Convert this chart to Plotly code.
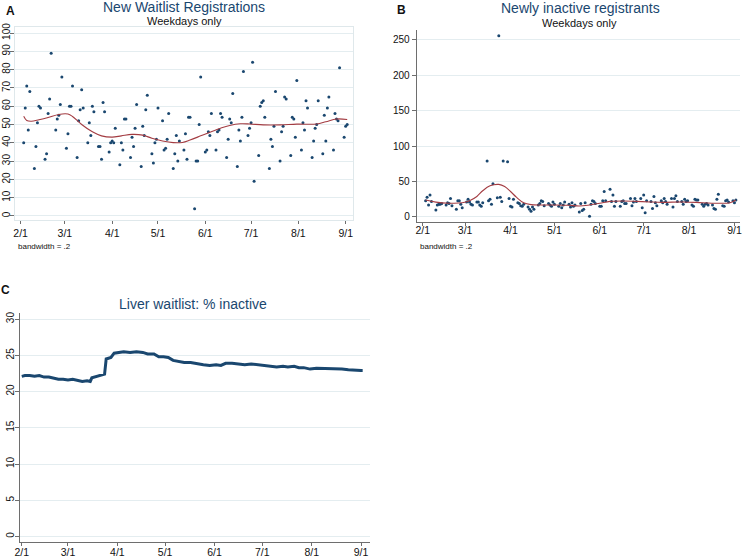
import pandas as pd
import plotly.graph_objects as go

# ---------------- data ----------------
weekday_start = "2020-02-03"
weekday_end = "2020-09-02"

registrations = [
    40, 59, 71, 47, 68,
    26, 38, 51, 60, 59,
    31, 34, 56, 64, 89,
    47, 53, 55, 61, 76,
    37, 45, 60, 60, 71,
    32, 52, 58, 69, 59,
    40, 51, 44, 60, 57,
    38, 38, 31, 62, 57,
    35, 40, 41, 40, 48,
    28, 40, 36, 53, 53,
    32, 43, 38, 48, 61,
    27, 49, 44, 58, 66,
    34, 29, 40, 42, 59,
    52, 36, 37, 42, 56,
    26, 34, 44, 30, 41,
    36, 45, 31, 54, 54,
    4, 30, 30, 50, 76,
    35, 36, 46, 44, 56,
    36, 46, 47, 56, 54,
    32, 42, 53, 51, 67,
    27, 47, 41, 54, 79,
    44, 48, 51, 84, 19,
    33, 60, 62, 63, 54,
    26, 42, 38, 49, 68,
    30, 46, 49, 65, 64,
    33, 54, 53, 43, 74,
    36, 51, 47, 63, 59,
    32, 41, 48, 50, 63,
    34, 55, 41, 59, 65,
    36, 56, 53, 52, 81,
    43, 49, 50,
]

inactive_new = [
    23, 28, 17, 31, 22,
    10, 17, 18, 18, 19,
    17, 20, 19, 26, 16,
    11, 23, 23, 18, 13,
    21, 25, 21, 18, 17,
    21, 21, 17, 15, 20,
    79, 23, 25, 18, 47,
    27, 256, 28, 22, 79,
    78, 26, 15, 14, 25,
    20, 19, 16, 15, 18,
    14, 11, 8, 14, 11,
    17, 19, 23, 22, 16,
    19, 17, 15, 21, 18,
    15, 19, 13, 17, 21,
    18, 14, 20, 15, 17,
    7, 19, 9, 11, 20,
    1, 18, 23, 22, 19,
    15, 15, 23, 36, 23,
    39, 22, 31, 15, 22,
    15, 22, 23, 19, 19,
    26, 16, 21, 26, 22,
    26, 13, 31, 6, 23,
    22, 12, 29, 20, 16,
    23, 20, 26, 22, 18,
    26, 14, 26, 30, 22,
    22, 18, 25, 22, 23,
    17, 15, 25, 24, 24,
    18, 15, 18, 19, 17,
    17, 12, 11, 25, 32,
    16, 15, 23, 24, 21,
    23, 20, 24,
]

smooth_a_dates = ["2020-02-03", "2020-02-05", "2020-02-08", "2020-02-13", "2020-02-19",
                  "2020-02-26", "2020-03-03", "2020-03-06", "2020-03-12", "2020-03-19",
                  "2020-03-25", "2020-04-01", "2020-04-07", "2020-04-14", "2020-04-21",
                  "2020-04-27", "2020-05-04", "2020-05-11", "2020-05-17", "2020-05-22",
                  "2020-05-29", "2020-06-04", "2020-06-11", "2020-06-17", "2020-06-24",
                  "2020-06-30", "2020-07-09", "2020-07-20", "2020-07-31", "2020-08-13",
                  "2020-08-19", "2020-08-26", "2020-09-02"]
smooth_a_values = [54.5, 52.2, 51.8, 52.6, 53.8, 55.5, 55.7, 54.4, 50.0, 46.0,
                   43.8, 43.1, 43.8, 44.6, 44.2, 42.5, 41.0, 40.1, 40.2, 41.5,
                   43.8, 45.8, 48.0, 49.5, 50.4, 50.3, 49.8, 49.8, 50.2, 50.3,
                   51.5, 53.0, 52.7]

smooth_b_dates = ["2020-02-03", "2020-02-10", "2020-02-19", "2020-02-28", "2020-03-04",
                  "2020-03-09", "2020-03-13", "2020-03-18", "2020-03-24", "2020-03-28",
                  "2020-04-01", "2020-04-05", "2020-04-10", "2020-04-15", "2020-04-23",
                  "2020-05-02", "2020-05-11", "2020-05-18", "2020-05-25", "2020-06-01",
                  "2020-06-08", "2020-06-17", "2020-06-26", "2020-07-05", "2020-07-14",
                  "2020-07-28", "2020-08-10", "2020-08-22", "2020-08-29", "2020-09-02"]
smooth_b_values = [24.0, 21.0, 19.5, 20.0, 23.0, 29.0, 37.0, 44.0, 46.0, 43.0,
                   36.0, 28.0, 20.0, 17.4, 17.0, 17.0, 16.5, 15.5, 17.0, 19.3,
                   22.0, 22.6, 22.0, 21.2, 20.7, 21.2, 20.2, 19.3, 20.2, 24.0]

pct_dates = ["2020-02-01", "2020-02-03", "2020-02-06", "2020-02-09", "2020-02-12",
             "2020-02-15", "2020-02-18", "2020-02-21", "2020-02-24", "2020-02-27",
             "2020-03-01", "2020-03-04", "2020-03-07", "2020-03-10", "2020-03-13",
             "2020-03-15", "2020-03-16", "2020-03-20", "2020-03-24", "2020-03-25",
             "2020-03-28", "2020-03-30", "2020-04-01", "2020-04-05", "2020-04-09",
             "2020-04-13", "2020-04-17", "2020-04-20", "2020-04-24", "2020-04-27",
             "2020-04-30", "2020-05-03", "2020-05-06", "2020-05-09", "2020-05-13",
             "2020-05-17", "2020-05-21", "2020-05-25", "2020-05-29", "2020-06-02",
             "2020-06-05", "2020-06-08", "2020-06-12", "2020-06-16", "2020-06-20",
             "2020-06-24", "2020-06-28", "2020-07-02", "2020-07-06", "2020-07-10",
             "2020-07-14", "2020-07-17", "2020-07-21", "2020-07-24", "2020-07-27",
             "2020-07-31", "2020-08-04", "2020-08-08", "2020-08-12", "2020-08-16",
             "2020-08-20", "2020-08-24", "2020-08-28", "2020-09-01", "2020-09-02"]
pct_values = [22.1, 22.2, 22.2, 22.1, 22.2, 22.0, 22.0, 21.8, 21.7, 21.7,
              21.6, 21.7, 21.6, 21.4, 21.5, 21.4, 21.9, 22.1, 22.4, 24.5,
              24.7, 25.3, 25.4, 25.5, 25.4, 25.5, 25.4, 25.2, 25.2, 24.8,
              24.8, 24.7, 24.3, 24.2, 24.0, 24.0, 23.8, 23.7, 23.6, 23.7,
              23.6, 23.9, 23.9, 23.8, 23.7, 23.8, 23.7, 23.7, 23.5, 23.4,
              23.5, 23.4, 23.5, 23.3, 23.3, 23.1, 23.2, 23.2, 23.1, 23.1,
              23.1, 23.0, 22.9, 22.9, 22.9]

month_ticks = ["2020-02-01", "2020-03-01", "2020-04-01", "2020-05-01",
               "2020-06-01", "2020-07-01", "2020-08-01", "2020-09-01"]
month_labels = ["2/1", "3/1", "4/1", "5/1", "6/1", "7/1", "8/1", "9/1"]

# ---------------- figure ----------------
W, H = 743, 558
NAVY = "#1a476f"
MAROON = "#a33c42"
GRID = "#e4edf0"
AXIS = "#6e6e6e"
FONT = "Liberation Sans, Arial, sans-serif"

weekdays = pd.bdate_range(weekday_start, weekday_end)
base = pd.Timestamp("2020-02-01")


def xd(a, b):
    return [a / W, b / W]


def yd(top, bottom):
    return [1 - bottom / H, 1 - top / H]


def drange(d0, d1):
    return [base + pd.Timedelta(days=d0), base + pd.Timedelta(days=d1)]


fig = go.Figure()
fig.add_trace(go.Scatter(x=weekdays, y=registrations, mode="markers",
                         marker=dict(color=NAVY, size=3), xaxis="x", yaxis="y"))
fig.add_trace(go.Scatter(x=smooth_a_dates, y=smooth_a_values, mode="lines",
                         line=dict(color=MAROON, width=1.1, shape="spline"),
                         xaxis="x", yaxis="y"))
fig.add_trace(go.Scatter(x=weekdays, y=inactive_new, mode="markers",
                         marker=dict(color=NAVY, size=3), xaxis="x2", yaxis="y2"))
fig.add_trace(go.Scatter(x=smooth_b_dates, y=smooth_b_values, mode="lines",
                         line=dict(color=MAROON, width=1.1, shape="spline"),
                         xaxis="x2", yaxis="y2"))
fig.add_trace(go.Scatter(x=pct_dates, y=pct_values, mode="lines",
                         line=dict(color=NAVY, width=3), xaxis="x3", yaxis="y3"))

xcommon = dict(tickvals=month_ticks, ticktext=month_labels, ticks="outside",
               ticklen=3, tickcolor=AXIS, showgrid=False, zeroline=False,
               automargin=False, tickfont=dict(size=10.5, color="#111"))
ycommon = dict(ticks="outside", ticklen=4, tickcolor=AXIS, showgrid=True,
               gridcolor=GRID, gridwidth=1, zeroline=False, automargin=False,
               tickfont=dict(size=10, color="#111"))

fig.update_layout(
    width=W, height=H, margin=dict(l=0, r=0, t=0, b=0, autoexpand=False),
    paper_bgcolor="white", plot_bgcolor="white", showlegend=False,
    font=dict(family=FONT, color="#111"),
    xaxis=dict(domain=xd(15, 353), range=drange(-3.7, 217.8), anchor="y",
               showline=True, mirror=True, linecolor="#dfe8eb", **xcommon),
    yaxis=dict(domain=yd(27, 220), range=[-2.2, 103.3], anchor="x",
               tickvals=list(range(0, 101, 10)), tickangle=-90,
               showline=True, mirror=True, linecolor="#dfe8eb",
               ticklabelstandoff=-4, **ycommon),
    xaxis2=dict(domain=xd(416.7, 740), range=drange(-4.1, 216.8), anchor="y2",
                showline=True, linecolor=AXIS, ticklabelstandoff=-5, **xcommon),
    yaxis2=dict(domain=yd(30, 222.3), range=[-7.5, 264], anchor="x2",
                tickvals=[0, 50, 100, 150, 200, 250],
                showline=True, linecolor=AXIS, **ycommon),
    xaxis3=dict(domain=xd(20, 370), range=drange(-1.1, 218.6), anchor="y3",
                showline=True, linecolor=AXIS, ticklabelstandoff=-2, **xcommon),
    yaxis3=dict(domain=yd(313.3, 541.7), range=[-0.72, 30.8], anchor="x3",
                tickvals=[0, 5, 10, 15, 20, 25, 30], tickangle=-90,
                showline=True, linecolor=AXIS, ticklabelstandoff=-3, **ycommon),
)


def note(text, x, y, size, color="#111", bold=False, xanchor="center"):
    fig.add_annotation(text=("<b>%s</b>" % text) if bold else text,
                       x=x / W, y=1 - y / H, xref="paper", yref="paper",
                       xanchor=xanchor, yanchor="middle", showarrow=False,
                       font=dict(size=size, color=color, family=FONT))


note("A", 10, 11, 12, bold=True)
note("New Waitlist Registrations", 184, 7, 14, color=NAVY)
note("Weekdays only", 184, 21, 11)
note("bandwidth = .2", 16, 246.5, 8, xanchor="left")

note("B", 401, 9.5, 12, bold=True)
note("Newly inactive registrants", 580, 8, 14, color=NAVY)
note("Weekdays only", 579, 23, 11)
note("bandwidth = .2", 418.5, 246, 8, xanchor="left")

note("C", 5, 290, 12, bold=True)
note("Liver waitlist: % inactive", 192.5, 304, 14, color=NAVY)

fig.write_html("out.html",
               config={"displayModeBar": False},
               post_script="document.body.style.margin='0px';"
                           "document.body.style.overflow='hidden';")
